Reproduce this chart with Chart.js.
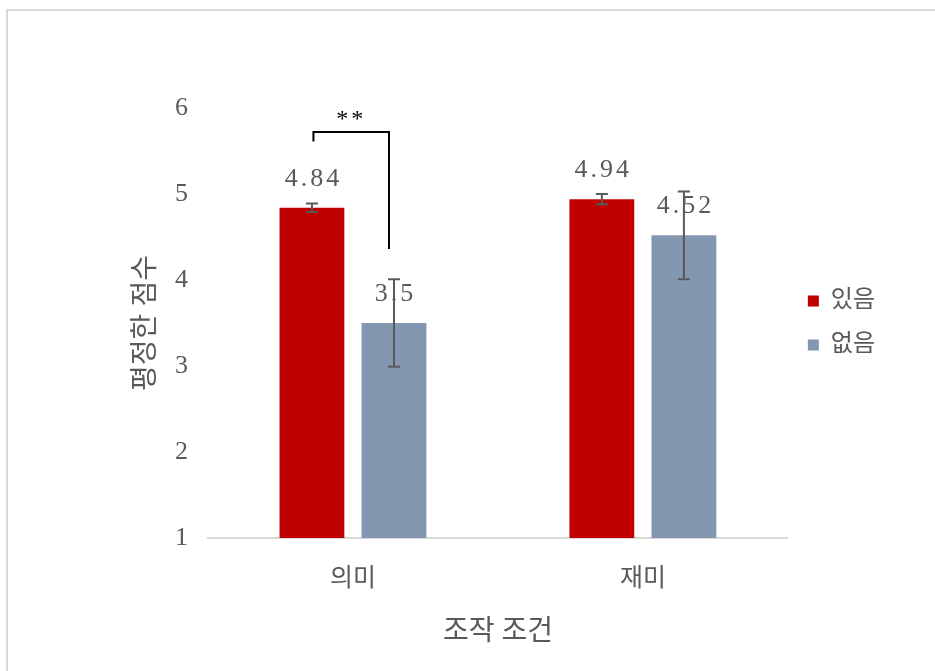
<!DOCTYPE html>
<html lang="ko">
<head>
<meta charset="utf-8">
<title>조작 조건별 평정한 점수</title>
<script src="https://cdn.jsdelivr.net/npm/chart.js@4.4.1/dist/chart.umd.min.js"></script>
<style>
  html, body { margin: 0; padding: 0; background: #ffffff; }
  body { width: 935px; height: 671px; overflow: hidden; position: relative; }
  #frame {
    position: absolute; left: 6px; top: 9px; width: 960px; height: 700px;
    border-left: 2px solid #D9D9D9; border-top: 2px solid #D9D9D9;
    box-sizing: border-box;
  }
  #chart { position: absolute; left: 0; top: 0; }
</style>
</head>
<body>
<div id="frame"></div>
<canvas id="chart" width="935" height="671"></canvas>
<script>
// Conditions and mean ratings
const categories = ['의미', '재미'];
const seriesNames = ['있음', '없음'];
const presentValues = [4.84, 4.94];
const absentValues = [3.5, 4.52];
// Error bar half-lengths
const presentErrors = [0.05, 0.06];
const absentErrors = [0.51, 0.51];
// Significance marker between the two 의미 bars
const sigLabel = '**';
const sigTop = 5.72;
const sigLeftEnd = 5.61;
const sigRightEnd = 4.36;

const serif = "'Liberation Serif', 'Noto Sans CJK KR', serif";
const grayText = '#595959';

// Error bars drawn at each bar's centre
const errorBarPlugin = {
  id: 'errorBars',
  afterDatasetsDraw(chart) {
    const ctx = chart.ctx;
    const y = chart.scales.y;
    const errs = [presentErrors, absentErrors];
    ctx.save();
    ctx.strokeStyle = '#595959';
    ctx.lineWidth = 2;
    chart.data.datasets.forEach((ds, di) => {
      chart.getDatasetMeta(di).data.forEach((bar, i) => {
        const v = ds.data[i], e = errs[di][i];
        const top = y.getPixelForValue(v + e), bot = y.getPixelForValue(v - e);
        ctx.beginPath();
        ctx.moveTo(bar.x, top); ctx.lineTo(bar.x, bot);
        ctx.moveTo(bar.x - 6, top); ctx.lineTo(bar.x + 6, top);
        ctx.moveTo(bar.x - 6, bot); ctx.lineTo(bar.x + 6, bot);
        ctx.stroke();
      });
    });
    ctx.restore();
  }
};

// Value labels above each bar
const valueLabelPlugin = {
  id: 'valueLabels',
  afterDatasetsDraw(chart) {
    const ctx = chart.ctx;
    ctx.save();
    ctx.font = '26px ' + serif;
    ctx.letterSpacing = '3px';
    ctx.fillStyle = grayText;
    ctx.textAlign = 'center';
    ctx.textBaseline = 'middle';
    chart.data.datasets.forEach((ds, di) => {
      chart.getDatasetMeta(di).data.forEach((bar, i) => {
        // letterSpacing adds trailing space; nudge right by half of it
        ctx.fillText(String(ds.data[i]), bar.x + 1.5, bar.y - 29);
      });
    });
    ctx.restore();
  }
};

// Bracket with asterisks marking the significant difference
const sigPlugin = {
  id: 'sigBracket',
  afterDraw(chart) {
    const ctx = chart.ctx;
    const y = chart.scales.y;
    const a = chart.getDatasetMeta(0).data[0];
    const b = chart.getDatasetMeta(1).data[0];
    const x1 = a.x + 1.5, x2 = b.x - 5;
    const yt = y.getPixelForValue(sigTop);
    ctx.save();
    ctx.strokeStyle = '#000000';
    ctx.lineWidth = 2;
    ctx.beginPath();
    ctx.moveTo(x1, y.getPixelForValue(sigLeftEnd));
    ctx.lineTo(x1, yt);
    ctx.lineTo(x2, yt);
    ctx.lineTo(x2, y.getPixelForValue(sigRightEnd));
    ctx.stroke();
    ctx.fillStyle = '#000000';
    ctx.font = '24px ' + serif;
    ctx.letterSpacing = '3px';
    ctx.textAlign = 'center';
    ctx.textBaseline = 'middle';
    ctx.fillText(sigLabel, (x1 + x2) / 2, yt - 12);
    ctx.restore();
  }
};

new Chart(document.getElementById('chart'), {
  type: 'bar',
  data: {
    labels: categories,
    datasets: [
      { label: seriesNames[0], data: presentValues, backgroundColor: '#C00000' },
      { label: seriesNames[1], data: absentValues, backgroundColor: '#8497B0' }
    ]
  },
  options: {
    responsive: false,
    animation: false,
    devicePixelRatio: 1,
    layout: { padding: { left: 130, right: 50, top: 108, bottom: 22 } },
    datasets: { bar: { categoryPercentage: 0.566, barPercentage: 0.79 } },
    scales: {
      x: {
        grid: { display: false, drawTicks: false },
        border: { color: '#D9D9D9', width: 2 },
        ticks: { color: grayText, font: { family: serif, size: 25 }, padding: 26 },
        title: { display: true, text: '조작 조건', color: grayText, font: { family: serif, size: 28 }, padding: { top: 0, bottom: 0 } },
        afterFit(scale) { scale.height = 111; }
      },
      y: {
        min: 1, max: 6,
        ticks: { stepSize: 1, color: grayText, font: { family: serif, size: 26 }, padding: 20 },
        grid: { display: false, drawTicks: false },
        border: { display: false },
        title: { display: true, text: '평정한 점수', color: grayText, font: { family: serif, size: 28 }, padding: { top: 0, bottom: 0 } },
        afterFit(scale) { scale.width = 78; }
      }
    },
    plugins: {
      legend: {
        position: 'right',
        fullSize: false,
        labels: {
          boxWidth: 11, boxHeight: 11,
          color: grayText,
          font: { family: serif, size: 24 },
          padding: 20
        }
      },
      tooltip: { enabled: false }
    }
  },
  plugins: [errorBarPlugin, valueLabelPlugin, sigPlugin]
});
</script>
</body>
</html>
